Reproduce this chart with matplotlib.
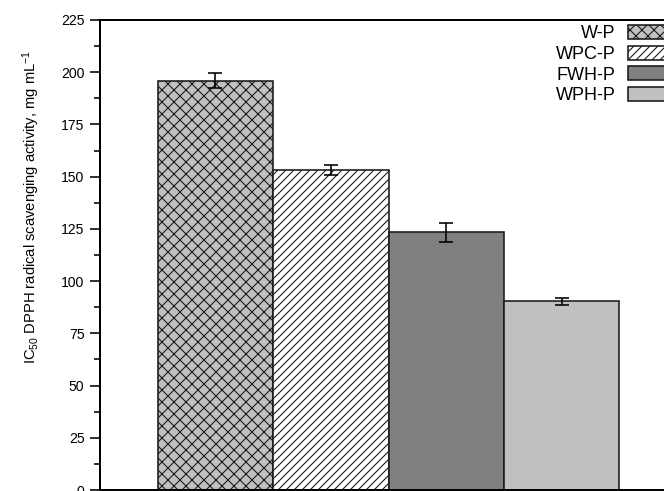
import matplotlib
matplotlib.use("Agg")
import matplotlib.pyplot as plt
from matplotlib.ticker import MultipleLocator
from matplotlib.patches import Patch

# ---- data ----
categories = ["W-P", "WPC-P", "FWH-P", "WPH-P"]
values = [195.9, 153.2, 123.3, 90.4]
errors = [3.5, 2.6, 4.4, 1.7]
positions = [1, 2, 3, 4]

facecolors = ["#c0c0c0", "#ffffff", "#808080", "#c0c0c0"]
hatches = ["xxxx", "//////", "", ""]

plt.rcParams["font.family"] = ["Liberation Sans", "DejaVu Sans"]
plt.rcParams["mathtext.fontset"] = "custom"
plt.rcParams["mathtext.rm"] = "Liberation Sans"
plt.rcParams["mathtext.it"] = "Liberation Sans:italic"
plt.rcParams["hatch.linewidth"] = 0.55

DPI = 144
W, H = 664, 491
fig = plt.figure(figsize=(W / DPI, H / DPI), dpi=DPI)
ax = fig.add_axes([100 / W, (H - 490) / H, 577 / W, 470 / H])

for p, v, fc, h in zip(positions, values, facecolors, hatches):
    ax.bar(p, v, width=1.0, color=fc, edgecolor="#1a1a1a", linewidth=0.8, hatch=h)

ax.errorbar(positions, values, yerr=errors, fmt="none", ecolor="black",
            elinewidth=0.8, capsize=3.5, capthick=0.8)

ax.set_xlim(0, 5)
ax.set_ylim(0, 225)
ax.yaxis.set_major_locator(MultipleLocator(25))
ax.yaxis.set_minor_locator(MultipleLocator(12.5))
ax.set_xticks([])
ax.tick_params(axis="y", which="major", direction="out", length=4.8, width=0.8,
               labelsize=7, pad=3)
ax.tick_params(axis="y", which="minor", direction="out", length=3, width=0.8)
for s in ax.spines.values():
    s.set_linewidth(1.0)

ax.set_ylabel(r"IC$_{50}$ DPPH radical scavenging activity, mg mL$^{-1}$", fontsize=7.4)
ax.yaxis.set_label_coords(-0.10, 0.602)

handles = [Patch(facecolor=fc, edgecolor="#1a1a1a", linewidth=0.8, hatch=h)
           for fc, h in zip(facecolors, hatches)]
leg = fig.legend(handles, categories, loc="upper right",
                 bbox_to_anchor=(668 / W, 1 - 25 / H), bbox_transform=fig.transFigure,
                 frameon=False, markerfirst=False, fontsize=9,
                 handlelength=2.2, handleheight=0.8, handletextpad=0.7,
                 labelspacing=0.2, borderpad=0, borderaxespad=0)

fig.savefig("out.png", dpi=DPI)
